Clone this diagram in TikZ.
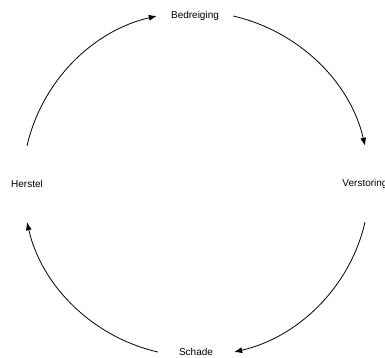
\documentclass[tikz,border=0pt]{standalone}
\usepackage{fontspec}
\setmainfont{Liberation Sans}
\usetikzlibrary{arrows.meta}
\tikzset{
  stage/.style={minimum width=76pt, minimum height=76pt, inner sep=0pt, font=\fontsize{10}{12}\selectfont},
  cycle/.style={line width=0.8pt, -{Latex[length=8pt,width=6pt]}}
}

\begin{document}
\begin{tikzpicture}[x=1pt,y=1pt]
    \useasboundingbox (0,0) rectangle (385,358);

    \node[stage] (bedreiging) at (195,342) {Bedreiging};
    \node[stage] (verstoring) at (365,174) {Verstoring};
    \node[stage] (schade)     at (196,6)   {Schade};
    \node[stage] (herstel)    at (27,174)  {Herstel};

    % de vier bogen, met de klok mee
    \draw[cycle] (herstel.north) to[out=77,in=193,looseness=0.92] (bedreiging.west);
    \draw[cycle] (bedreiging.east) to[out=-13,in=103,looseness=0.92] (verstoring.north);
    \draw[cycle] (verstoring.south) to[out=257,in=13,looseness=0.92] (schade.east);
    \draw[cycle] (schade.west) to[out=167,in=283,looseness=0.92] (herstel.south);
  \end{tikzpicture}
\end{document}
